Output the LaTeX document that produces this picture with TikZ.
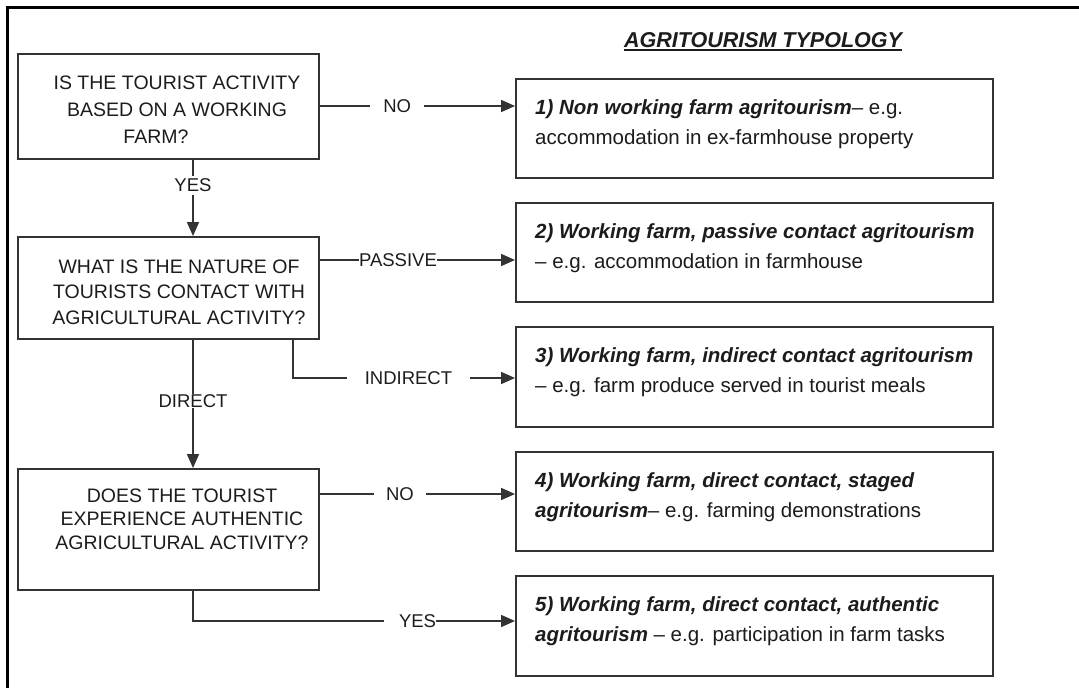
\documentclass[tikz,border=0pt]{standalone}
\usepackage{fontspec}
\setmainfont{Liberation Sans}
\usetikzlibrary{arrows.meta}
\definecolor{ink}{HTML}{1C1C1C}
\definecolor{edgec}{HTML}{333333}
\newcommand\bitx[1]{\textbf{\textit{#1}}}
\begin{document}
\begin{tikzpicture}[x=1pt,y=-1pt,
  box/.style={draw=edgec, line width=1.9pt, inner sep=0, anchor=north west},
  qtext/.style={align=center, text=ink, font=\fontsize{19.5}{27}\selectfont, inner sep=0},
  ttext/.style={align=left, text=ink, font=\fontsize{20.5}{30}\selectfont, inner sep=0, anchor=north west},
  lbl/.style={text=ink, font=\fontsize{18.5}{22}\selectfont, fill=white, inner ysep=1pt},
  conn/.style={draw=edgec, line width=1.7pt},
  arr/.style={conn, -{Triangle[length=14pt,width=12pt]}}
]
\useasboundingbox (0,0) rectangle (1079,688);
\fill[white] (0,0) rectangle (1079,688);
\draw[line width=3pt, black, line join=miter] (7,690) -- (7,7) -- (1079,7);

% title
\node[text=ink, font=\fontsize{21.5}{26}\selectfont\bfseries\itshape, inner sep=0] (title) at (763,40) {AGRITOURISM TYPOLOGY};
\draw[line width=1.5pt, ink] ([yshift=-2.5pt]title.base west) -- ([yshift=-2.5pt]title.base east);

% question boxes
\node[box, minimum width=301pt, minimum height=105pt] (q1) at (17,53) {};
\node[box, minimum width=301pt, minimum height=102pt] (q2) at (17,236) {};
\node[box, minimum width=301pt, minimum height=121pt] (q3) at (17,468) {};

\node[qtext] (q1t) at (177,110) {IS THE TOURIST ACTIVITY\\BASED ON A WORKING\\FARM?\hspace*{42pt}};
\node[qtext, font=\fontsize{19.5}{25.5}\selectfont] (q2t) at (179,292) {WHAT IS THE NATURE OF\\TOURISTS CONTACT WITH\\AGRICULTURAL ACTIVITY?};
\node[qtext, font=\fontsize{19.5}{23.5}\selectfont] (q3t) at (182,519) {DOES THE TOURIST\\EXPERIENCE AUTHENTIC\\AGRICULTURAL ACTIVITY?};

% typology boxes
\node[box, minimum width=477pt, minimum height=99pt] (b1) at (515,78) {};
\node[box, minimum width=477pt, minimum height=99pt] (b2) at (515,202) {};
\node[box, minimum width=477pt, minimum height=100pt] (b3) at (515,326) {};
\node[box, minimum width=477pt, minimum height=99pt] (b4) at (515,451) {};
\node[box, minimum width=477pt, minimum height=100pt] (b5) at (515,575) {};

\node[ttext] (b1t) at (535,99) {\bitx{1) Non working farm agritourism}– e.g.\\accommodation in ex-farmhouse property};
\node[ttext] (b2t) at (535,223) {\bitx{2) Working farm, passive contact agritourism}\\– e.g. accommodation in farmhouse};
\node[ttext] (b3t) at (535,347) {\bitx{3) Working farm, indirect contact agritourism}\\– e.g. farm produce served in tourist meals};
\node[ttext] (b4t) at (535,472) {\bitx{4) Working farm, direct contact, staged}\\\bitx{agritourism}– e.g. farming demonstrations};
\node[ttext] (b5t) at (535,596) {\bitx{5) Working farm, direct contact, authentic}\\\bitx{agritourism} – e.g. participation in farm tasks};

% helper coordinates
\coordinate (vx) at (193,0);
\coordinate (ix) at (293,0);
\coordinate (r1) at (0,106);
\coordinate (r2) at (0,260);
\coordinate (r3) at (0,378);
\coordinate (r4) at (0,494);
\coordinate (r5) at (0,621);

% connectors
\draw[arr] (q1.east |- r1) -- node[lbl, pos=0.396, inner xsep=13pt] {NO} (b1.west |- r1);
\draw[arr] (q1.south -| vx) -- node[lbl, pos=0.333, inner ysep=3pt, inner xsep=0pt] {YES} (q2.north -| vx);
\draw[arr] (q2.east |- r2) -- node[lbl, pos=0.40, inner xsep=0.5pt, inner ysep=0pt] {PASSIVE} (b2.west |- r2);
\draw[arr] (q2.south -| ix) |- node[lbl, pos=0.76, inner xsep=18pt] {INDIRECT} (b3.west |- r3);
\draw[arr] (q2.south -| vx) -- node[lbl, pos=0.48, inner ysep=0.5pt, inner xsep=0pt] {DIRECT} (q3.north -| vx);
\draw[arr] (q3.east |- r4) -- node[lbl, pos=0.41, inner xsep=12pt] {NO} (b4.west |- r4);
\draw[arr] (q3.south -| vx) |- node[lbl, pos=0.837, inner xsep=0pt] {\hspace*{15pt}YES} (b5.west |- r5);
\end{tikzpicture}
\end{document}
